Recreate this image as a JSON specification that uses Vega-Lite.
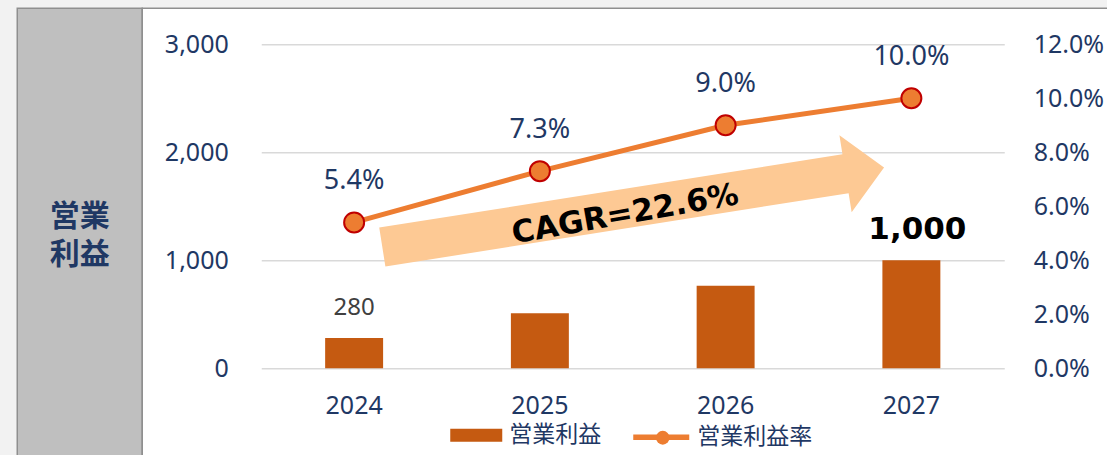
{
  "$schema": "https://vega.github.io/schema/vega-lite/v6.json",
  "background": "#f2f2f2",
  "padding": {"left": 16.25, "top": 7.25, "right": 0, "bottom": 0},
  "config": {
    "font": "Noto Sans, Noto Sans CJK JP",
    "axis": {"labelFont": "Noto Sans", "labelFontSize": 25, "labelColor": "#1f3864", "domain": false, "ticks": false, "title": null},
    "legend": {"labelFont": "Noto Sans CJK JP", "labelFontSize": 23, "labelColor": "#1f3864", "padding": 0, "titlePadding": 0}
  },
  "spacing": 0,
  "bounds": "flush",
  "hconcat": [
    {
      "width": 125,
      "height": 448,
      "view": {"fill": "#bfbfbf", "stroke": "#8f8f8f", "strokeWidth": 1.5},
      "data": {"values": [{"label": "営業\n利益"}]},
      "mark": {"type": "text", "font": "Noto Sans CJK JP", "fontWeight": "bold", "fontSize": 30, "color": "#1f3864", "lineBreak": "\n", "lineHeight": 38, "align": "center", "baseline": "middle", "dy": -15},
      "encoding": {"text": {"field": "label"}}
    },
    {
      "width": 966,
      "height": 448,
      "view": {"fill": "white", "stroke": "#8f8f8f", "strokeWidth": 1.5},
      "data": {"values": [
        {"year": "2024", "profit": 280, "margin": 0.054},
        {"year": "2025", "profit": 510, "margin": 0.073},
        {"year": "2026", "profit": 765, "margin": 0.090},
        {"year": "2027", "profit": 1000, "margin": 0.100}
      ]},
      "layer": [
        {
          "encoding": {
            "x": {"field": "year", "type": "nominal", "scale": {"range": [119, 862], "paddingInner": 0.688, "paddingOuter": 0.344}, "axis": {"labelAngle": 0, "labelPadding": 25, "offset": -88, "grid": false}},
            "y": {"field": "profit", "type": "quantitative", "scale": {"domain": [0, 3000], "range": [360, 36], "nice": false}, "axis": {"orient": "left", "values": [0, 1000, 2000, 3000], "format": ",.0f", "offset": -119, "labelPadding": 33, "grid": true, "gridColor": "#d9d9d9", "gridWidth": 1.5}}
          },
          "layer": [
            {
              "mark": {"type": "bar"},
              "encoding": {
                "fill": {"datum": "営業利益", "scale": {"range": ["#c55a11"]}, "legend": {"orient": "none", "legendX": 432, "legendY": 400, "symbolType": "M-1,-0.25H1V0.25H-1Z", "symbolSize": 2704, "title": null, "labelOffset": 6}}
              }
            },
            {
              "transform": [{"filter": "datum.year == '2024'"}],
              "mark": {"type": "text", "font": "Noto Sans", "fontSize": 24, "color": "#404040", "baseline": "middle", "dy": -30},
              "encoding": {"text": {"field": "profit", "format": ",.0f"}}
            },
            {
              "transform": [{"filter": "datum.year == '2027'"}],
              "mark": {"type": "text", "font": "DejaVu Sans", "fontWeight": "bold", "fontSize": 31, "color": "#000000", "baseline": "middle", "dx": 6, "dy": -30},
              "encoding": {"text": {"field": "profit", "format": ",.0f"}}
            },
            {
              "data": {"values": [{"year": "2025", "profit": 1490, "label": "CAGR=22.6%"}]},
              "layer": [
                {
                  "mark": {"type": "point", "shape": "M-254,-19.7L215,-19.7L215,-39L254,0L215,39L215,19.7L-254,19.7Z", "size": 4, "angle": -9, "filled": true, "fill": "#fdc994", "opacity": 1, "strokeWidth": 0},
                  "encoding": {"x": {"field": "year", "type": "nominal", "bandPosition": 2.11}}
                },
                {
                  "mark": {"type": "text", "font": "DejaVu Sans", "fontWeight": "bold", "fontSize": 31, "color": "#000000", "angle": -10, "align": "center", "baseline": "middle", "dx": -9, "dy": 6},
                  "encoding": {"x": {"field": "year", "type": "nominal", "bandPosition": 2.11}, "text": {"field": "label"}}
                }
              ]
            }
          ]
        },
        {
          "encoding": {
            "x": {"field": "year", "type": "nominal"},
            "y": {"field": "margin", "type": "quantitative", "scale": {"domain": [0, 0.12], "range": [360, 36], "nice": false}, "axis": {"orient": "right", "values": [0, 0.02, 0.04, 0.06, 0.08, 0.1, 0.12], "format": ".1%", "offset": -104, "labelPadding": 29, "grid": false}}
          },
          "layer": [
            {
              "mark": {"type": "line", "strokeWidth": 5},
              "encoding": {
                "stroke": {"datum": "営業利益率", "scale": {"range": ["#ed7d31"]}, "legend": {"orient": "none", "legendX": 613, "legendY": 398, "symbolType": "M-1,0H1", "symbolSize": 3136, "symbolStrokeWidth": 5.5, "title": null, "labelOffset": 5}}
              }
            },
            {
              "mark": {"type": "point", "filled": true, "fill": "#ed7d31", "stroke": "#c00000", "strokeWidth": 2, "size": 400, "opacity": 1},
              "encoding": {
                "shape": {"datum": "marker", "scale": {"range": ["circle"]}, "legend": {"orient": "none", "legendX": 634, "legendY": 418, "symbolSize": 190, "symbolStrokeWidth": 2, "symbolFillColor": "#ed7d31", "symbolStrokeColor": "#c00000", "symbolOpacity": 1, "labelExpr": "''", "title": null}}
              }
            },
            {
              "mark": {"type": "text", "font": "Noto Sans", "fontSize": 27, "color": "#1f3864", "baseline": "middle", "dy": -41},
              "encoding": {"text": {"field": "margin", "format": ".1%"}}
            }
          ]
        }
      ],
      "resolve": {"scale": {"y": "independent"}}
    }
  ]
}
